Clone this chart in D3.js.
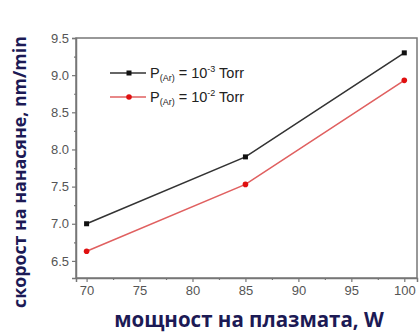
<!DOCTYPE html>
<html>
<head>
<meta charset="utf-8">
<script src="https://cdn.jsdelivr.net/npm/d3@7"></script>
<style>
body { margin: 0; background: #fff; }
svg { display: block; }
</style>
</head>
<body>
<div id="chart"></div>
<script>
// data
var power = [70, 85, 100];
var rate1 = [7.0, 7.9, 9.3];    // P(Ar) = 10^-3 Torr
var rate2 = [6.63, 7.53, 8.93]; // P(Ar) = 10^-2 Torr
var xTicks = [70, 75, 80, 85, 90, 95, 100];
var yTicks = [6.5, 7.0, 7.5, 8.0, 8.5, 9.0, 9.5];

var W = 419, H = 333;
var m = {left: 76, top: 38, right: 2, bottom: 55};

var svg = d3.select("#chart").append("svg")
  .attr("width", W).attr("height", H);

var x = d3.scaleLinear().domain([69, 101.2]).range([m.left, W - m.right]);
var y = d3.scaleLinear().domain([6.27, 9.5]).range([H - m.bottom, m.top]);

var axisColor = "#777", labelColor = "#555";

// minor ticks
var xMinor = d3.range(72.5, 100, 5);
var yMinor = d3.range(6.75, 9.5, 0.5);

svg.append("g").attr("transform", "translate(0," + (H - m.bottom) + ")")
  .call(d3.axisBottom(x).tickValues(xTicks).tickSize(4).tickPadding(4).tickFormat(d3.format("d")));
svg.append("g").attr("transform", "translate(0," + (H - m.bottom) + ")")
  .call(d3.axisBottom(x).tickValues(xMinor).tickSize(2).tickFormat(""))
  .select(".domain").remove();

svg.append("g").attr("transform", "translate(" + m.left + ",0)")
  .call(d3.axisLeft(y).tickValues(yTicks).tickSize(4).tickPadding(3).tickFormat(d3.format(".1f")));
svg.append("g").attr("transform", "translate(" + m.left + ",0)")
  .call(d3.axisLeft(y).tickValues(yMinor).tickSize(2).tickFormat(""))
  .select(".domain").remove();

svg.selectAll(".tick line").attr("stroke", axisColor).attr("stroke-width", 1.2);
svg.selectAll(".domain").attr("stroke", axisColor).attr("stroke-width", 1.5);
svg.selectAll(".tick text").attr("fill", labelColor)
  .style("font-family", "Arial, 'Liberation Sans', sans-serif").style("font-size", "13px");

// frame top / right
svg.append("rect")
  .attr("x", m.left).attr("y", m.top)
  .attr("width", W - m.right - m.left).attr("height", H - m.bottom - m.top)
  .attr("fill", "none").attr("stroke", axisColor).attr("stroke-width", 1.5);

var line = d3.line().x(function(d, i){ return x(power[i]); }).y(function(d){ return y(d); });

svg.append("path").datum(rate1).attr("d", line)
  .attr("fill", "none").attr("stroke", "#333").attr("stroke-width", 1.6);
svg.append("path").datum(rate2).attr("d", line)
  .attr("fill", "none").attr("stroke", "#e06060").attr("stroke-width", 1.6);

svg.selectAll(".m1").data(rate1).enter().append("rect")
  .attr("x", function(d, i){ return x(power[i]) - 2.5; })
  .attr("y", function(d){ return y(d) - 2.5; })
  .attr("width", 5).attr("height", 5).attr("fill", "#111");
svg.selectAll(".m2").data(rate2).enter().append("circle")
  .attr("cx", function(d, i){ return x(power[i]); })
  .attr("cy", function(d){ return y(d); })
  .attr("r", 2.8).attr("fill", "#e01010");

// legend
var legend = [
  {c: "#333", mc: "#111", sq: true, exp: "-3", ly: 73},
  {c: "#e06060", mc: "#e01010", sq: false, exp: "-2", ly: 97}
];
legend.forEach(function(l){
  var g = svg.append("g");
  g.append("line").attr("x1", 110).attr("x2", 146).attr("y1", l.ly).attr("y2", l.ly)
    .attr("stroke", l.c).attr("stroke-width", 1.6);
  if (l.sq) g.append("rect").attr("x", 126.5).attr("y", l.ly - 2.5).attr("width", 5).attr("height", 5).attr("fill", l.mc);
  else g.append("circle").attr("cx", 129).attr("cy", l.ly).attr("r", 2.8).attr("fill", l.mc);
  var t = g.append("text").attr("x", 150).attr("y", l.ly + 5)
    .attr("fill", "#222").style("font-family", "Arial, 'Liberation Sans', sans-serif").style("font-size", "14.5px");
  t.append("tspan").text("P");
  t.append("tspan").attr("dy", 3).style("font-size", "9px").text("(Ar)");
  t.append("tspan").attr("dy", -3).text(" = 10");
  t.append("tspan").attr("dy", -6).style("font-size", "9px").text(l.exp);
  t.append("tspan").attr("dy", 6).text(" Torr");
});

// axis titles
var titleColor = "#1c1a55";
svg.append("text")
  .attr("x", 249).attr("y", 327).attr("text-anchor", "middle")
  .attr("fill", titleColor)
  .style("font-family", "'Open Sans', 'DejaVu Sans', sans-serif").style("font-weight", "bold").style("font-size", "20.5px")
  .text("мощност на плазмата, W");
svg.append("text")
  .attr("transform", "translate(26,172) rotate(-90)").attr("text-anchor", "middle")
  .attr("fill", titleColor)
  .style("font-family", "'Open Sans', 'DejaVu Sans', sans-serif").style("font-weight", "bold").style("font-size", "17.8px")
  .text("скорост на нанасяне, nm/min");
</script>
</body>
</html>
